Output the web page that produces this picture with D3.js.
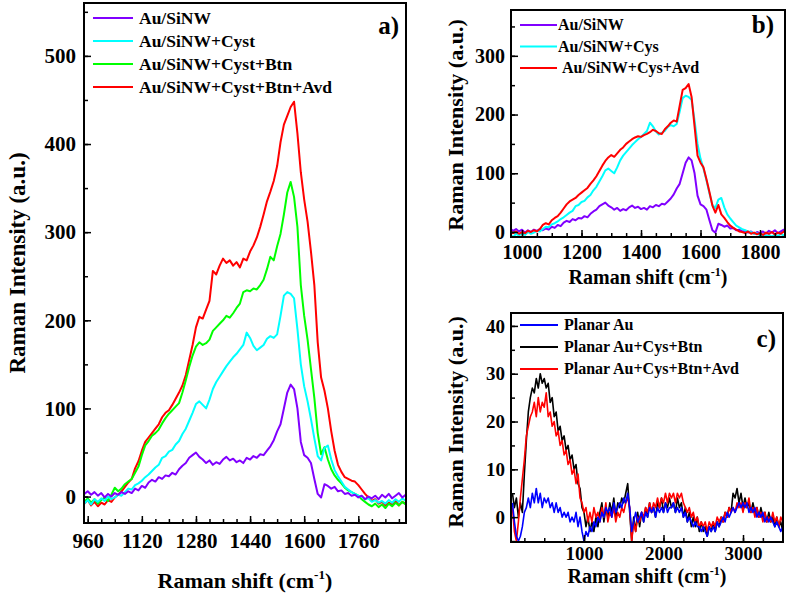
<!DOCTYPE html>
<html>
<head>
<meta charset="utf-8">
<script src="https://cdn.jsdelivr.net/npm/d3@7"></script>
<style>
    body { margin: 0; background: #fff; }
    svg  { display: block; font-family: "Liberation Serif", "Times New Roman", serif; font-weight: bold; }
</style>
</head>
<body>
<svg id="svg" width="787" height="596"></svg>
<script>
// Raman spectra (intensity in a.u.)
// sample grids, cm-1
const shiftA    = d3.range(950, 1901, 10);
const shiftBRed = d3.range(960, 1891, 10);
const shiftC    = d3.range(100, 3501, 25);

const siNW = [
    3, 6, 2, 5, 1, 4, -1, 3, 0, 4,
    2, 5, 3, 6, 4, 9, 7, 12, 10, 16,
    19, 17, 22, 20, 24, 23, 27, 25, 31, 35,
    38, 44, 47, 50, 45, 42, 38, 41, 36, 39,
    37, 42, 45, 41, 43, 39, 41, 38, 44, 42,
    46, 44, 48, 47, 52, 57, 64, 74, 82, 100,
    118, 127, 122, 100, 62, 47, 44, 38, 20, 3,
    -1, 14, 12, 9, 11, 6, 7, 3, 4, 1,
    2, -1, 1, -3, 0, -2, 1, -3, 2, -1,
    3, -2, 1, 4, -1, 2
];
const siNWCyst = [
    -8, -4, -9, -3, -6, -2, -5, 0, -3, -1,
    2, 1, 5, 9, 8, 13, 15, 18, 22, 25,
    29, 33, 36, 44, 46, 51, 53, 59, 63, 71,
    77, 86, 95, 105, 108, 104, 100, 110, 122, 130,
    136, 142, 148, 153, 158, 162, 167, 172, 186, 180,
    171, 166, 169, 172, 179, 182, 180, 184, 205, 228,
    232, 230, 225, 190, 150, 125, 108, 88, 66, 46,
    41, 55, 58, 42, 30, 23, 17, 11, 8, 5,
    3, 1, 0, -3, -2, -6, -4, -7, -5, -8,
    -4, -7, -3, -6, -2, -5
];
const siNWCystBtn = [
    -6, -2, -7, -3, -8, -4, -1, -5, 2, 10,
    6, 9, 14, 17, 20, 27, 34, 47, 58, 63,
    69, 72, 76, 83, 89, 94, 98, 102, 106, 118,
    132, 147, 160, 170, 175, 172, 174, 178, 188, 192,
    196, 200, 205, 203, 208, 214, 219, 232, 234, 233,
    236, 235, 240, 246, 258, 272, 268, 284, 298, 320,
    345, 357, 340, 306, 240, 205, 178, 145, 112, 72,
    48, 56, 42, 31, 24, 19, 15, 10, 7, 5,
    3, 1, -3, -6, -9, -11, -8, -12, -9, -13,
    -8, -11, -7, -10, -6, -9
];
const siNWCystBtnAvd = [
    -8, -4, -10, -6, -11, -7, -9, -4, -6, -1,
    2, 6, 11, 16, 20, 32, 40, 52, 62, 67,
    72, 77, 82, 90, 95, 98, 104, 111, 118, 126,
    138, 155, 172, 192, 204, 202, 212, 222, 256, 252,
    262, 270, 265, 268, 262, 266, 260, 270, 268, 278,
    285, 294, 306, 320, 335, 346, 358, 375, 402, 422,
    432, 442, 448, 412, 368, 337, 312, 278, 240, 175,
    135, 120, 100, 74, 52, 36, 28, 22, 20, 18,
    17, 13, 8, 3, -1, -5, -3, -8, -6, -10,
    -7, -9, -5, -10, -6, -8
];
const siNWCysAvd = [
    2, -2, 1, -3, 0, -2, 2, 0, 3, 1,
    5, 12, 15, 13, 20, 24, 27, 33, 40, 47,
    52, 55, 58, 63, 67, 71, 75, 82, 88, 95,
    104, 113, 121, 127, 131, 128, 134, 140, 144, 150,
    154, 158, 161, 163, 162, 165, 167, 170, 174, 172,
    168, 167, 175, 180, 186, 190, 188, 215, 242, 245,
    252, 230, 180, 130, 118, 110, 90, 68, 45, 33,
    46, 30, 24, 17, 11, 7, 4, 1, 0, -2,
    1, -3, -1, -4, -2, -5, -1, -3, 0, -4,
    -1, -3, 1, -2
];
const planarAu = [
    3, -1, -4, -5, -4, -2, 1, 2,
    4, 2, 5, 3, 6, 3, 5, 2,
    4, 3, 4, 2, 3, 1, 3, 1,
    2, 0, 1, 0, 1, -1, 0, -1,
    1, -2, 0, -3, -5, -3, -4, -2,
    -3, -1, -2, 0, -1, 1, 0, 2,
    1, 2, 0, 3, 1, 2, 3, 2,
    4, 3, 5, 2, -3, -1, 1, -1,
    0, 1, -1, 1, 0, 2, 1, 2,
    0, 2, 1, 2, 1, 3, 1, 2,
    2, 3, 1, 2, 1, 2, 0, 1,
    -1, 0, -1, -2, -1, -2, -2, -3,
    -2, -3, -4, -2, -3, -2, -3, -1,
    -2, -1, 0, -1, 1, 0, 1, 2,
    1, 2, 3, 2, 3, 2, 3, 1,
    2, 1, 2, 0, 1, 0, 1, -1,
    0, -1, 0, -1, -2, -1, -2, -3,
    -2
];
const planarCysBtn = [
    5, 2, 4, 0, 3, 1, 9, 16,
    22, 25, 27, 26, 29, 27, 30, 28,
    29, 27, 28, 24, 25, 21, 22, 18,
    19, 16, 17, 14, 15, 12, 13, 10,
    11, 7, 6, 2, 1, -2, 0, -3,
    -1, -3, 0, -2, 1, 3, -1, 2,
    0, 3, 1, 4, 0, 3, 2, 4,
    3, 5, 7, 1, -5, 0, -3, 1,
    -2, 1, -1, 2, 0, 3, 1, 2,
    0, 3, 2, 4, 1, 3, 2, 4,
    2, 3, 1, 4, 2, 3, 0, 2,
    -1, 1, -2, 0, -2, 0, -3, -1,
    -3, -2, -4, -2, -3, -1, -3, -1,
    -2, 0, -1, 1, 0, 2, 1, 5,
    4, 6, 3, 5, 2, 4, 2, 3,
    1, 3, 1, 2, 0, 2, 0, 1,
    -1, 1, -1, 0, -2, 0, -2, -1,
    -3
];
const planarCysBtnAvd = [
    2, -3, -5, -1, 4, 8, 12, 17,
    19, 21, 22, 24, 21, 25, 22, 24,
    23, 26, 21, 22, 19, 20, 17, 18,
    15, 16, 13, 14, 11, 12, 9, 10,
    7, 9, 4, 3, 1, 2, -1, 1,
    -1, 2, 0, 1, -1, 2, 0, 3,
    -1, 1, 0, 2, -1, 1, 0, 2,
    1, 3, 4, 2, -5, -1, -3, 0,
    -1, 1, 0, 2, 1, 3, 1, 3,
    2, 4, 2, 4, 3, 5, 3, 5,
    4, 5, 3, 5, 4, 5, 3, 2,
    1, 2, 0, 1, -1, 0, -2, -1,
    -2, -1, -3, -1, -2, -1, -2, 0,
    -1, 0, -1, 1, 0, 2, 1, 2,
    1, 3, 2, 3, 1, 3, 2, 4,
    1, 2, 0, 2, 0, 1, -1, 1,
    -1, 0, -1, 1, -1, 0, -2, 0,
    -1
];

// tick values
const ticksAX = [960, 1120, 1280, 1440, 1600, 1760];
const ticksAY = [0, 100, 200, 300, 400, 500];
const ticksBX = [1000, 1200, 1400, 1600, 1800];
const ticksBY = [0, 100, 200, 300];
const ticksCX = [1000, 2000, 3000];
const ticksCY = [0, 10, 20, 30, 40];

const VIOLET = '#8000ff', CYAN = '#00ffff', GREEN = '#00ff00',
      RED = '#ff0000', BLUE = '#0000ff', BLACK = '#000000';

const svg = d3.select('#svg');

function drawPanel(p) {
    const x = d3.scaleLinear().domain(p.xDomain).range([p.left, p.right]);
    const y = d3.scaleLinear().domain(p.yDomain).range([p.bottom, p.top]);
    const g = svg.append('g');

    const clipId = 'clip-' + p.id;
    svg.append('clipPath').attr('id', clipId)
        .append('rect')
        .attr('x', p.left).attr('y', p.top)
        .attr('width', p.right - p.left).attr('height', p.bottom - p.top);

    // --- Curves ---
    const line = d3.line().x(d => x(d[0])).y(d => y(d[1]));
    const curves = g.append('g').attr('clip-path', `url(#${clipId})`);
    p.series.forEach(s => {
        curves.append('path')
            .datum(s.xs.map((v, i) => [v, s.ys[i]]))
            .attr('fill', 'none')
            .attr('stroke', s.color)
            .attr('stroke-width', p.lineWidth)
            .attr('stroke-linejoin', 'round')
            .attr('d', line);
    });

    // --- Axes (ticks point inward, minor ticks in their own group) ---
    const xMinorTicks = d3.range(p.xMinor[0], p.xDomain[1], p.xMinor[1]);
    const yMinorTicks = d3.range(p.yMinor[0], p.yDomain[1], p.yMinor[1]);

    g.append('g').attr('transform', `translate(0,${p.bottom})`)
        .call(d3.axisBottom(x).tickValues(xMinorTicks).tickSize(-4).tickFormat(() => null));
    g.append('g').attr('transform', `translate(0,${p.bottom})`)
        .call(d3.axisBottom(x).tickValues(p.xTicks).tickSize(-7).tickPadding(p.xPad).tickFormat(d3.format('d')));
    g.append('g').attr('transform', `translate(${p.left},0)`)
        .call(d3.axisLeft(y).tickValues(yMinorTicks).tickSize(-4).tickFormat(() => null));
    g.append('g').attr('transform', `translate(${p.left},0)`)
        .call(d3.axisLeft(y).tickValues(p.yTicks).tickSize(-7).tickPadding(p.yPad).tickFormat(d3.format('d')));

    g.selectAll('.domain').remove();
    g.selectAll('.tick line').attr('stroke', '#000').attr('stroke-width', 1.5);
    g.selectAll('.tick text')
        .attr('font-family', '"Liberation Serif", serif')
        .attr('font-weight', 'bold')
        .attr('font-size', p.tickFont)
        .attr('fill', '#000');

    // frame
    g.append('rect')
        .attr('x', p.left).attr('y', p.top)
        .attr('width', p.right - p.left).attr('height', p.bottom - p.top)
        .attr('fill', 'none').attr('stroke', '#000').attr('stroke-width', 2);

    // --- Titles ---
    const xt = g.append('text')
        .attr('x', (p.left + p.right) / 2 + p.xTitleDx).attr('y', p.xTitleY)
        .attr('text-anchor', 'middle').attr('font-size', p.xTitleFont);
    xt.append('tspan').text('Raman shift (cm');
    xt.append('tspan').attr('font-size', p.xTitleFont * 0.6).attr('dy', -p.xTitleFont * 0.42).text('-1');
    xt.append('tspan').attr('dy', p.xTitleFont * 0.42).text(')');

    g.append('text')
        .attr('transform', `translate(${p.yTitleX},${p.yTitleCy}) rotate(-90)`)
        .attr('text-anchor', 'middle').attr('font-size', p.yTitleFont)
        .text('Raman Intensity (a.u.)');

    // panel letter
    g.append('text')
        .attr('x', p.tag.x).attr('y', p.tag.y)
        .attr('text-anchor', 'end').attr('font-size', 25)
        .text(p.tag.text);

    // --- Legend ---
    p.legend.rows.forEach((r, i) => {
        const cy = p.legend.y0 + i * p.legend.dy;
        g.append('line')
            .attr('x1', p.legend.x1).attr('x2', p.legend.x2)
            .attr('y1', cy).attr('y2', cy)
            .attr('stroke', r.color).attr('stroke-width', 2);
        g.append('text')
            .attr('x', p.legend.tx + (r.dx || 0)).attr('y', cy + p.legend.font * 0.33)
            .attr('font-size', p.legend.font)
            .text(r.label);
    });
}

// a)
drawPanel({
    id: 'a', left: 84, top: 3, right: 406, bottom: 523,
    xDomain: [949, 1901], yDomain: [-30, 560],
    xTicks: ticksAX, yTicks: ticksAY, xMinor: [960, 40], yMinor: [0, 50],
    xPad: 10, yPad: 8, tickFont: 21, lineWidth: 2,
    xTitleY: 588, xTitleDx: 0, xTitleFont: 22,
    yTitleX: 25, yTitleCy: 263, yTitleFont: 23,
    tag: { text: 'a)', x: 399, y: 34 },
    series: [
        { xs: shiftA, ys: siNWCystBtnAvd, color: RED },
        { xs: shiftA, ys: siNWCystBtn,    color: GREEN },
        { xs: shiftA, ys: siNWCyst,       color: CYAN },
        { xs: shiftA, ys: siNW,           color: VIOLET },
    ],
    legend: {
        x1: 93, x2: 133, tx: 139, y0: 18, dy: 23, font: 17.5,
        rows: [
            { label: 'Au/SiNW',              color: VIOLET },
            { label: 'Au/SiNW+Cyst',         color: CYAN },
            { label: 'Au/SiNW+Cyst+Btn',     color: GREEN },
            { label: 'Au/SiNW+Cyst+Btn+Avd', color: RED },
        ],
    },
});

// b)
drawPanel({
    id: 'b', left: 511, top: 10, right: 785, bottom: 237,
    xDomain: [963, 1884], yDomain: [-8.5, 378],
    xTicks: ticksBX, yTicks: ticksBY, xMinor: [1000, 50], yMinor: [0, 50],
    xPad: 8, yPad: 6, tickFont: 20, lineWidth: 2,
    xTitleY: 284, xTitleDx: 0, xTitleFont: 20,
    yTitleX: 463, yTitleCy: 125, yTitleFont: 22,
    tag: { text: 'b)', x: 774, y: 33 },
    series: [
        { xs: shiftA,    ys: siNW,        color: VIOLET },
        { xs: shiftA,    ys: siNWCyst,    color: CYAN },
        { xs: shiftBRed, ys: siNWCysAvd,  color: RED },
    ],
    legend: {
        x1: 520, x2: 557, tx: 558, y0: 25, dy: 21.5, font: 16,
        rows: [
            { label: 'Au/SiNW',         color: VIOLET },
            { label: 'Au/SiNW+Cys',     color: CYAN },
            { label: 'Au/SiNW+Cys+Avd', color: RED, dx: 4 },
        ],
    },
});

// c)
drawPanel({
    id: 'c', left: 511, top: 313, right: 783, bottom: 542,
    xDomain: [82, 3503], yDomain: [-5.2, 42.7],
    xTicks: ticksCX, yTicks: ticksCY, xMinor: [250, 250], yMinor: [-5, 5],
    xPad: 5, yPad: 6, tickFont: 19, lineWidth: 1.6,
    xTitleY: 583, xTitleDx: 0, xTitleFont: 20,
    yTitleX: 463, yTitleCy: 422, yTitleFont: 22,
    tag: { text: 'c)', x: 776, y: 347 },
    series: [
        { xs: shiftC, ys: planarCysBtn,    color: BLACK },
        { xs: shiftC, ys: planarCysBtnAvd, color: RED },
        { xs: shiftC, ys: planarAu,        color: BLUE },
    ],
    legend: {
        x1: 520, x2: 558, tx: 564, y0: 325, dy: 22, font: 16,
        rows: [
            { label: 'Planar Au',             color: BLUE },
            { label: 'Planar Au+Cys+Btn',     color: BLACK },
            { label: 'Planar Au+Cys+Btn+Avd', color: RED },
        ],
    },
});
</script>
</body>
</html>
